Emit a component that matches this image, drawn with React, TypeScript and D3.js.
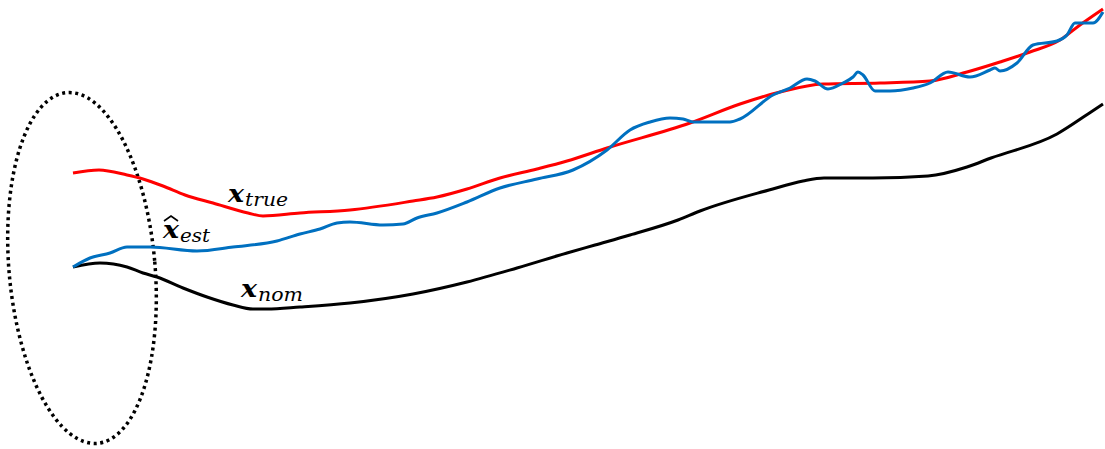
import React from "react";
import * as d3 from "d3";

const W = 1105;
const H = 449;

// time axis (horizontal position) and state value (vertical, larger = higher)
const trueT = [73, 99, 127, 143, 163, 185, 213, 248, 263, 300, 350, 413, 437, 467, 500, 537, 567, 607, 690, 740, 780, 823, 880, 930, 967, 1000, 1030, 1060, 1080, 1103];
const trueV = [276, 279, 274, 270, 263, 254, 246, 236, 233, 236, 239, 248, 252, 260, 271, 280, 288, 301, 326, 345, 357, 365, 366, 368, 377, 387, 397, 409, 424, 440];

const estT = [73, 90, 110, 127, 150, 197, 233, 277, 300, 320, 337, 350, 383, 403, 417, 437, 467, 500, 537, 573, 607, 630, 650, 670, 683, 693, 730, 740, 773, 790, 807, 815, 828, 843, 853, 858, 863, 875, 890, 913, 930, 948, 970, 990, 995, 1000, 1017, 1033, 1057, 1067, 1075, 1093, 1103];
const estV = [182, 191, 196, 202, 202, 198, 202, 208, 215, 220, 226, 227, 224, 225, 231, 236, 247, 261, 270, 279, 299, 319, 327, 331, 330, 327, 327, 330, 354, 361, 370, 368, 360, 366, 372, 377, 374, 358, 358, 361, 366, 377, 372, 379, 381, 378, 386, 404, 408, 414, 426, 426, 437];

const nomT = [73, 100, 127, 143, 157, 183, 207, 233, 253, 267, 300, 350, 413, 467, 517, 567, 595, 630, 678, 700, 769, 803, 824, 873, 928, 967, 991, 1057, 1088, 1103];
const nomV = [182, 186, 182, 176, 172, 161, 152, 144, 140, 140, 142, 146, 155, 167, 181, 196, 204, 214, 229, 238, 259, 268, 271, 271, 273, 282, 291, 315, 335, 345];

const labelMain = ["x", "x", "x"];
const labelSub = ["true", "est", "nom"];

const x = d3.scaleLinear().domain([0, W]).range([0, W]);
const y = d3.scaleLinear().domain([0, H]).range([H, 0]);

const line = d3
  .line<[number, number]>()
  .x((d) => x(d[0]))
  .y((d) => y(d[1]))
  .curve(d3.curveMonotoneX);

const zip = (t: number[], v: number[]) => t.map((d, i) => [d, v[i]] as [number, number]);

const mathFont = "'DejaVu Serif', serif";

function Label({ lx, ly, main, sub, subW, hat }: { lx: number; ly: number; main: string; sub: string; subW: number; hat?: boolean }) {
  return (
    <g>
      <text x={lx} y={ly} fontFamily={mathFont} fontSize={25} fontWeight="bold" fontStyle="italic" textLength={16} lengthAdjust="spacingAndGlyphs">
        {main}
      </text>
      {hat && (
        <path
          d={`M${lx + 1},${ly - 17} L${lx + 8},${ly - 22} L${lx + 15},${ly - 17}`}
          fill="none"
          stroke="#000"
          strokeWidth={1.6}
        />
      )}
      <text x={lx + 17} y={ly + 3.5} fontFamily={mathFont} fontSize={19} fontStyle="italic" textLength={subW} lengthAdjust="spacingAndGlyphs">
        {sub}
      </text>
    </g>
  );
}

export default function App() {
  return (
    <svg width={W} height={H} style={{ position: "absolute", left: 0, top: 0, background: "#fff" }}>
      <rect width={W} height={H} fill="#fff" />
      <ellipse
        cx={82}
        cy={268}
        rx={73}
        ry={176}
        transform="rotate(-5 82 268)"
        fill="none"
        stroke="#000"
        strokeWidth={3.5}
        strokeDasharray="3 3.6"
      />
      <path d={line(zip(nomT, nomV)) || ""} fill="none" stroke="#000" strokeWidth={3} />
      <path d={line(zip(trueT, trueV)) || ""} fill="none" stroke="#ff0000" strokeWidth={3} />
      <path d={line(zip(estT, estV)) || ""} fill="none" stroke="#0070c0" strokeWidth={3} />

      <Label lx={228} ly={202} main={labelMain[0]} sub={labelSub[0]} subW={43} />
      <Label lx={163} ly={238} main={labelMain[1]} sub={labelSub[1]} subW={30} hat />
      <Label lx={241} ly={297} main={labelMain[2]} sub={labelSub[2]} subW={45} />
    </svg>
  );
}
